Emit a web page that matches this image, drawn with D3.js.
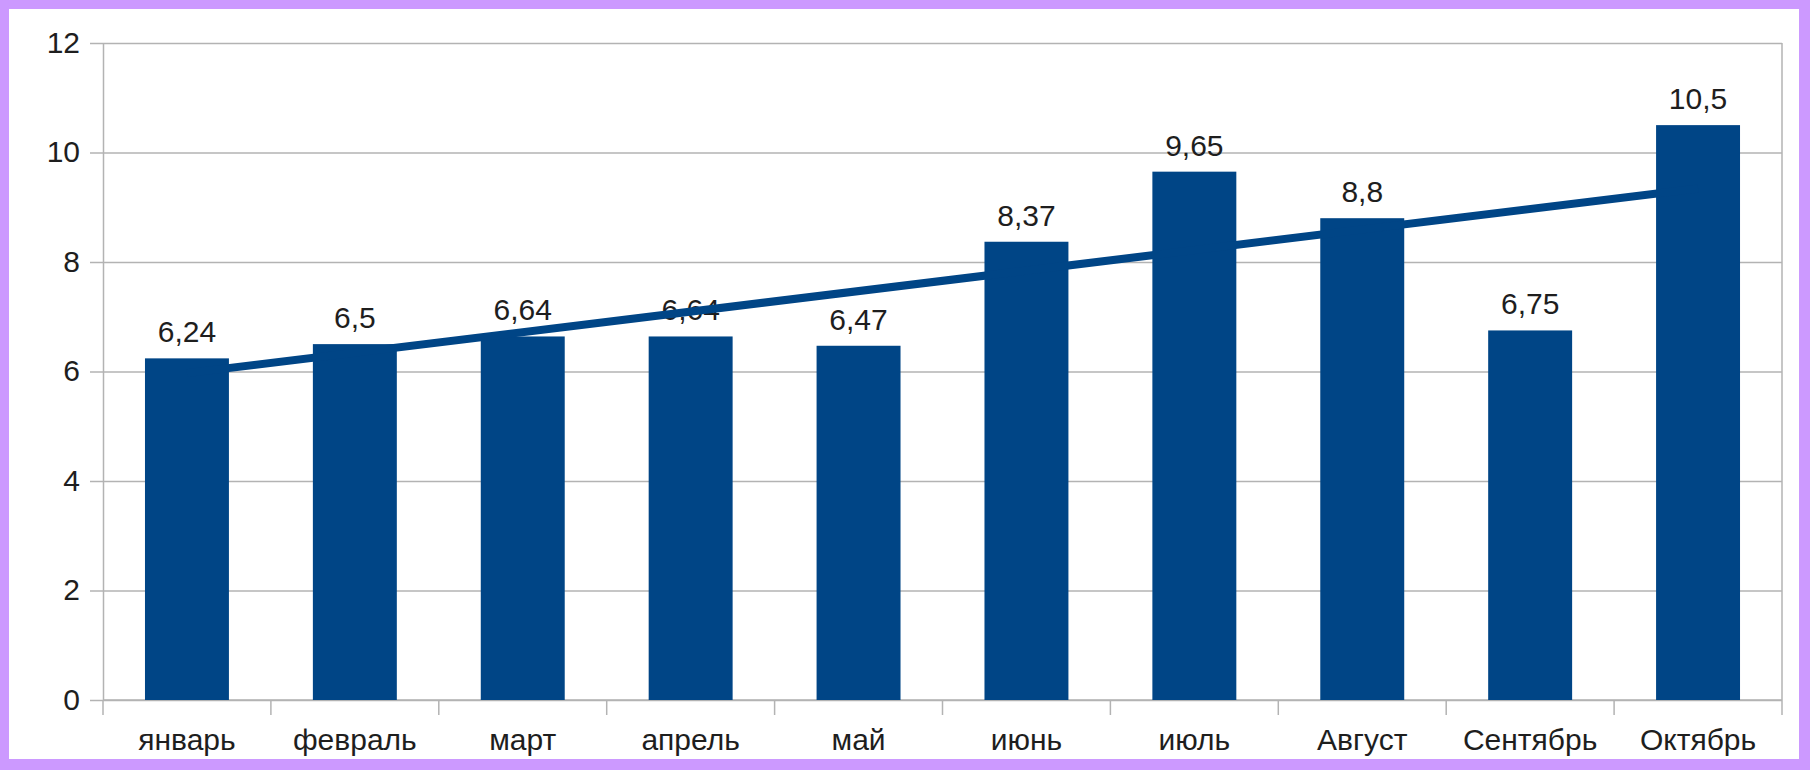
<!DOCTYPE html>
<html>
<head>
<meta charset="utf-8">
<script src="https://cdn.jsdelivr.net/npm/d3@7"></script>
<style>
    body { margin: 0; background: #cc99ff; }
    svg { display: block; }
    text { font-family: "Liberation Sans", Arial, sans-serif; fill: #1e1e1e; }
</style>
</head>
<body>
<div id="chart"></div>
<script>
// chart data
const months = ["январь", "февраль", "март", "апрель", "май", "июнь", "июль", "Август", "Сентябрь", "Октябрь"];
const values = [6.24, 6.5, 6.64, 6.64, 6.47, 8.37, 9.65, 8.8, 6.75, 10.5];
const yTicks = [0, 2, 4, 6, 8, 10, 12];

const width = 1810, height = 770;
const plot = { left: 103, right: 1782, top: 43, bottom: 700 };
const barColor = "#004586";
const gridColor = "#b3b3b3";

const svg = d3.select("#chart").append("svg")
    .attr("width", width)
    .attr("height", height);

// white card inside the purple frame
svg.append("rect")
    .attr("x", 9).attr("y", 9)
    .attr("width", width - 20).attr("height", height - 20)
    .attr("fill", "#fff");

const x = d3.scaleBand()
    .domain(months)
    .range([plot.left, plot.right])
    .paddingInner(0.5)
    .paddingOuter(0.25);

const y = d3.scaleLinear()
    .domain([0, 12])
    .range([plot.bottom, plot.top]);

// gridlines
svg.append("g")
    .attr("transform", `translate(${plot.left},0)`)
    .call(d3.axisLeft(y).tickValues(yTicks).tickSize(-(plot.right - plot.left)).tickFormat(""))
    .call(g => g.select(".domain").remove())
    .call(g => g.selectAll("line").attr("stroke", gridColor).attr("stroke-width", 1.5));

// right border of the wall
svg.append("line")
    .attr("x1", plot.right).attr("x2", plot.right)
    .attr("y1", plot.top).attr("y2", plot.bottom)
    .attr("stroke", gridColor).attr("stroke-width", 1.5);

// y axis
const yAxis = svg.append("g")
    .attr("transform", `translate(${plot.left},0)`)
    .call(d3.axisLeft(y).tickValues(yTicks).tickSize(13).tickPadding(10).tickSizeOuter(0));
yAxis.select(".domain").attr("stroke", gridColor).attr("stroke-width", 1.5);
yAxis.selectAll("line").attr("stroke", gridColor).attr("stroke-width", 1.5);
yAxis.selectAll("text")
    .attr("font-size", 30)
    .attr("dy", "0.3em")
    .style("font-family", "'Liberation Sans', Arial, sans-serif")
    .attr("fill", "#1e1e1e");

// x axis: ticks between categories, labels centered under bars
const step = x.step();
const bounds = d3.range(months.length + 1).map(i => plot.left + i * step);
const xAxis = svg.append("g")
    .attr("transform", `translate(0,${plot.bottom})`);
xAxis.append("line")
    .attr("x1", plot.left).attr("x2", plot.right)
    .attr("stroke", gridColor).attr("stroke-width", 1.5);
xAxis.selectAll(".tick")
    .data(bounds)
    .enter().append("line")
    .attr("x1", d => d).attr("x2", d => d)
    .attr("y1", 0).attr("y2", 15)
    .attr("stroke", gridColor).attr("stroke-width", 1.5);
xAxis.selectAll(".lbl")
    .data(months)
    .enter().append("text")
    .attr("x", d => x(d) + x.bandwidth() / 2)
    .attr("y", 50)
    .attr("text-anchor", "middle")
    .attr("font-size", 30)
    .text(d => d);

// bars
const data = months.map((m, i) => ({ month: m, value: values[i] }));
svg.selectAll(".bar")
    .data(data)
    .enter().append("rect")
    .attr("x", d => x(d.month))
    .attr("y", d => y(d.value))
    .attr("width", x.bandwidth())
    .attr("height", d => y(0) - y(d.value))
    .attr("fill", barColor);

// value labels with comma decimals
const ru = d3.formatLocale({ decimal: ",", thousands: " ", grouping: [3], currency: ["", ""] });
const fmt = ru.format(".2~f");
svg.selectAll(".val")
    .data(data)
    .enter().append("text")
    .attr("x", d => x(d.month) + x.bandwidth() / 2)
    .attr("y", d => y(d.value) - 16)
    .attr("text-anchor", "middle")
    .attr("font-size", 30)
    .text(d => fmt(d.value));

// linear trend line (least squares over the bar values)
const idx = d3.range(1, values.length + 1);
const mx = d3.mean(idx), my = d3.mean(values);
const slope = d3.sum(idx, (k, i) => (k - mx) * (values[i] - my)) / d3.sum(idx, k => (k - mx) ** 2);
const intercept = my - slope * mx;
const trend = [1, values.length].map(k => ({ month: months[k - 1], value: intercept + slope * k }));

svg.append("path")
    .datum(trend)
    .attr("fill", "none")
    .attr("stroke", barColor)
    .attr("stroke-width", 8)
    .attr("d", d3.line()
        .x(d => x(d.month) + x.bandwidth() / 2)
        .y(d => y(d.value)));
</script>
</body>
</html>
